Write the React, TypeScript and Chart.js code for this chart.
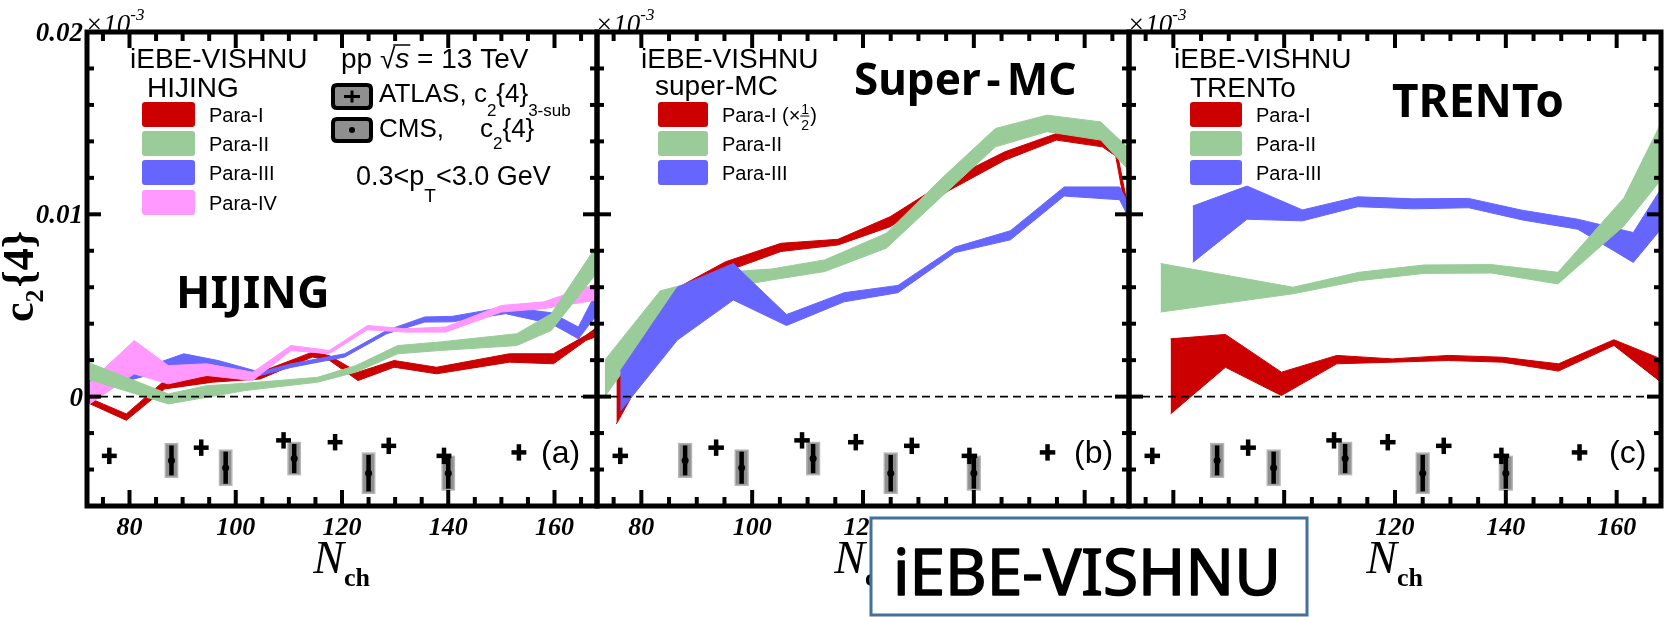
import React, { useEffect, useRef } from "react";
import { Chart, registerables } from "chart.js";

Chart.register(...registerables);

// ---------------- data ----------------
const xTickLabels = [80, 100, 120, 140, 160];
const yTickLabels = [0, 0.01, 0.02];
const yTickText = ["0", "0.01", "0.02"];

// (a) iEBE-VISHNU + HIJING
const hijingRedX = [72, 72.6, 79.4, 86.6, 95.6, 104.6, 114.4, 117.6, 123, 129.8, 137.8, 151.5, 159.8, 165.9, 168];
const hijingRedHi = [0.006, -0.0001, -0.00095, 0.00088, 0.00116, 0.00134, 0.00244, 0.00225, 0.00134, 0.00198, 0.00161, 0.00235, 0.00235, 0.00336, 0.0038];
const hijingRedLo = [-0.0003, -0.0004, -0.0013, 0.00042, 0.00079, 0.00097, 0.00217, 0.002, 0.00088, 0.00161, 0.00125, 0.00189, 0.0018, 0.00308, 0.0033];

const hijingGreenX = [72, 87.3, 94.5, 101.7, 115.4, 122.6, 130.5, 138.5, 152.9, 159.4, 168];
const hijingGreenHi = [0.0019, 0.00015, 0.0006, 0.00073, 0.00106, 0.0017, 0.0028, 0.003, 0.00345, 0.00455, 0.0083];
const hijingGreenLo = [0.00097, -0.0004, -0.00004, 0.00033, 0.00079, 0.00134, 0.00235, 0.00253, 0.0028, 0.00363, 0.0068];

const hijingBlueX = [72.5, 80, 90.2, 96.7, 104.6, 110.4, 120.5, 128.4, 135.6, 140.7, 150.8, 159.4, 164.5, 168];
const hijingBlueHi = [0.001, 0.0013, 0.00235, 0.00198, 0.00134, 0.0018, 0.00235, 0.00363, 0.00437, 0.0044, 0.00492, 0.0046, 0.00382, 0.0058];
const hijingBlueLo = [0.0002, 0.0009, 0.0017, 0.00161, 0.00116, 0.0016, 0.00217, 0.00345, 0.00409, 0.0041, 0.00455, 0.004, 0.00317, 0.0045];

const hijingPinkX = [72.5, 80.9, 87.3, 94.5, 103.2, 110.4, 117.6, 124.8, 132, 139.5, 150, 158, 168];
const hijingPinkHi = [0.0008, 0.00308, 0.0017, 0.0018, 0.00134, 0.0028, 0.00253, 0.0039, 0.00372, 0.00382, 0.005, 0.0052, 0.0062];
const hijingPinkLo = [-0.0004, 0.00125, 0.0007, 0.00116, 0.00088, 0.00253, 0.00235, 0.00367, 0.00354, 0.00354, 0.00464, 0.00483, 0.0053];

// (b) iEBE-VISHNU + super-MC
const superRedX = [75.5, 85.5, 95.2, 105.2, 115.5, 124.9, 135.5, 145.6, 154.9, 163.2, 165.6, 168];
const superRedHi = [0.001, 0.0058, 0.0074, 0.00841, 0.00863, 0.00987, 0.0119, 0.01343, 0.01443, 0.01429, 0.0138, 0.0101];
const superRedLo = [-0.0015, 0.004, 0.00686, 0.00796, 0.00832, 0.00932, 0.0113, 0.01297, 0.01407, 0.0137, 0.0132, 0.0092];

const superGreenX = [73.4, 83.4, 96.6, 103.5, 113.1, 124.2, 134.5, 143.9, 153.2, 162.9, 168];
const superGreenHi = [0.002, 0.0058, 0.00686, 0.007, 0.0075, 0.00896, 0.01206, 0.01471, 0.01544, 0.01507, 0.0136];
const superGreenLo = [0.0, 0.0042, 0.00604, 0.0064, 0.00686, 0.00814, 0.01106, 0.0137, 0.01453, 0.01407, 0.0124];

const superBlueX = [76.2, 86.5, 96.6, 106.2, 116.6, 126.3, 136.6, 146.6, 156.3, 166.3, 168];
const superBlueHi = [0.0014, 0.006, 0.0073, 0.0045, 0.0057, 0.0061, 0.0082, 0.0091, 0.0115, 0.0115, 0.0105];
const superBlueLo = [-0.0008, 0.0031, 0.0053, 0.0039, 0.0052, 0.0057, 0.0079, 0.0086, 0.011, 0.0108, 0.0098];

// (c) iEBE-VISHNU + TRENTo
const trentoRedX = [79.5, 89.4, 99.5, 109.5, 119.5, 129.7, 139.4, 149.5, 159.5, 168];
const trentoRedHi = [0.00317, 0.00341, 0.00134, 0.00226, 0.00207, 0.00226, 0.00216, 0.0018, 0.00312, 0.00207];
const trentoRedLo = [-0.00095, 0.00161, 0.00006, 0.0018, 0.00189, 0.00198, 0.00189, 0.0014, 0.00281, 0.00079];

const trentoGreenX = [77.7, 101.6, 113.5, 125.2, 137.4, 149.4, 161.3, 168];
const trentoGreenHi = [0.0073, 0.006, 0.00682, 0.00722, 0.00724, 0.00682, 0.0109, 0.015];
const trentoGreenLo = [0.00464, 0.00564, 0.00636, 0.00676, 0.00678, 0.00618, 0.00936, 0.0119];

const trentoBlueX = [83.5, 93.3, 103.3, 113.3, 123.3, 133.3, 143, 153, 163, 168];
const trentoBlueHi = [0.01045, 0.01155, 0.01024, 0.01096, 0.01085, 0.01087, 0.01022, 0.00973, 0.009, 0.0114];
const trentoBlueLo = [0.00736, 0.00973, 0.00964, 0.01042, 0.0103, 0.01036, 0.00969, 0.00918, 0.00736, 0.0092];

// measurements (same in all panels)
const atlasX = [76.2, 93.5, 109, 118.7, 128.8, 139.2, 153.3];
const atlasY = [-0.00325, -0.0028, -0.0024, -0.0025, -0.0027, -0.00325, -0.00306];
const atlasYErr = [0.00045, 0.00045, 0.00045, 0.00045, 0.00045, 0.00045, 0.00045];
const atlasXErr = [1.4, 1.4, 1.4, 1.4, 1.4, 1.4, 1.4];

const cmsX = [87.9, 98.1, 111, 125, 140];
const cmsY = [-0.0035, -0.0039, -0.0034, -0.0042, -0.0042];
const cmsStat = [0.00082, 0.00088, 0.0008, 0.001, 0.00085];
const cmsSys = [0.00092, 0.00096, 0.00088, 0.0011, 0.00092];

// ---------------- layout / style ----------------
const W = 1664;
const H = 617;
const FRAME_TOP = 32;
const FRAME_BOTTOM = 506;
const X_MIN = 72;
const X_MAX = 168;
const Y_MIN = -0.006;
const Y_MAX = 0.02;

const RED = "#cc0000";
const GREEN = "#99cc99";
const BLUE = "#6666ff";
const PINK = "#ff99ff";

const SANS = '"Liberation Sans", Arial, sans-serif';
const SERIF = '"Liberation Serif", "Times New Roman", serif';
const BIG = '"Noto Sans", sans-serif';

const CMS_HALF_W = 1.15;

function runs(ctx: any, x: number, y: number, list: any[]) {
  let cx = x;
  for (const r of list) {
    ctx.font = r.f;
    ctx.fillText(r.t, cx, y + (r.dy || 0));
    cx += ctx.measureText(r.t).width + (r.dx || 0);
  }
  return cx;
}

function txt(ctx: any, s: string, x: number, y: number, font: string, align = "left") {
  ctx.font = font;
  ctx.textAlign = align;
  ctx.fillText(s, x, y);
  ctx.textAlign = "left";
}

function roundRect(ctx: any, x: number, y: number, w: number, h: number, r: number) {
  ctx.beginPath();
  ctx.moveTo(x + r, y);
  ctx.lineTo(x + w - r, y);
  ctx.quadraticCurveTo(x + w, y, x + w, y + r);
  ctx.lineTo(x + w, y + h - r);
  ctx.quadraticCurveTo(x + w, y + h, x + w - r, y + h);
  ctx.lineTo(x + r, y + h);
  ctx.quadraticCurveTo(x, y + h, x, y + h - r);
  ctx.lineTo(x, y + r);
  ctx.quadraticCurveTo(x, y, x + r, y);
  ctx.closePath();
}

function line(ctx: any, x0: number, y0: number, x1: number, y1: number) {
  ctx.beginPath();
  ctx.moveTo(x0, y0);
  ctx.lineTo(x1, y1);
  ctx.stroke();
}

function drawMeasurements(c: any) {
  const { ctx, scales } = c;
  const xs = scales.x;
  const ys = scales.y;
  ctx.save();
  cmsX.forEach((v, i) => {
    const px = xs.getPixelForValue(v);
    const x0 = xs.getPixelForValue(v - CMS_HALF_W);
    const x1 = xs.getPixelForValue(v + CMS_HALF_W);
    const y0 = ys.getPixelForValue(cmsY[i] + cmsSys[i]);
    const y1 = ys.getPixelForValue(cmsY[i] - cmsSys[i]);
    ctx.fillStyle = "#8f8f8f";
    ctx.fillRect(x0, y0, x1 - x0, y1 - y0);
    ctx.strokeStyle = "#b5b5b5";
    ctx.lineWidth = 1.5;
    ctx.strokeRect(x0, y0, x1 - x0, y1 - y0);
    ctx.strokeStyle = "#000";
    ctx.lineWidth = 4.5;
    line(ctx, px, ys.getPixelForValue(cmsY[i] + cmsStat[i]), px, ys.getPixelForValue(cmsY[i] - cmsStat[i]));
    ctx.fillStyle = "#000";
    ctx.beginPath();
    ctx.arc(px, ys.getPixelForValue(cmsY[i]), 3.5, 0, Math.PI * 2);
    ctx.fill();
  });
  ctx.strokeStyle = "#000";
  ctx.lineWidth = 4.5;
  atlasX.forEach((v, i) => {
    const py = ys.getPixelForValue(atlasY[i]);
    line(ctx, xs.getPixelForValue(v - atlasXErr[i]), py, xs.getPixelForValue(v + atlasXErr[i]), py);
    const px = xs.getPixelForValue(v);
    line(ctx, px, ys.getPixelForValue(atlasY[i] + atlasYErr[i]), px, ys.getPixelForValue(atlasY[i] - atlasYErr[i]));
  });
  ctx.restore();
}

function drawFrame(c: any) {
  const { ctx, chartArea: a, scales } = c;
  const xs = scales.x;
  const ys = scales.y;
  ctx.save();
  ctx.strokeStyle = "#000";
  // zero line
  ctx.lineWidth = 1.6;
  ctx.setLineDash([8, 5]);
  const yz = ys.getPixelForValue(0);
  line(ctx, a.left, yz, a.right, yz);
  ctx.setLineDash([]);
  // x ticks
  ctx.lineWidth = 4;
  for (let v = 75; v < X_MAX; v += 5) {
    const px = xs.getPixelForValue(v);
    const len = v % 20 === 0 ? 16 : 9;
    line(ctx, px, a.bottom, px, a.bottom - len);
    line(ctx, px, a.top, px, a.top + len);
  }
  // y ticks
  for (let k = -2; k <= 9; k++) {
    const py = ys.getPixelForValue(k * 0.002);
    const len = k % 5 === 0 ? 14 : 7;
    line(ctx, a.left, py, a.left + len, py);
    line(ctx, a.right, py, a.right - len, py);
  }
  ctx.lineWidth = 5;
  ctx.strokeRect(a.left, a.top, a.right - a.left, a.bottom - a.top);
  ctx.restore();

  // x tick labels + title
  ctx.save();
  ctx.fillStyle = "#000";
  xTickLabels.forEach((v) => {
    txt(ctx, String(v), xs.getPixelForValue(v), 535, `italic bold 26px ${SERIF}`, "center");
  });
  const cx = (a.left + a.right) / 2;
  txt(ctx, "N", cx + 2, 573, `italic 46px ${SERIF}`, "right");
  txt(ctx, "ch", cx + 2, 586, `bold 26px ${SERIF}`, "left");
  // x10^-3
  runs(ctx, a.left - 2, 33, [
    { t: "×10", f: `italic 27px ${SERIF}` },
    { t: "-3", f: `italic 17px ${SERIF}`, dy: -13 },
  ]);
  ctx.restore();
}

function drawLegend(ctx: any, patchX: number, patchW: number, textX: number, items: any[]) {
  const rows = [114.5, 143.5, 172.5, 202.5];
  items.forEach((it, i) => {
    const cy = rows[i];
    ctx.fillStyle = it.color;
    roundRect(ctx, patchX, cy - 12.5, patchW, 25, 3);
    ctx.fill();
    ctx.fillStyle = "#000";
    if (it.frac) {
      const ex = runs(ctx, textX, cy + 7, [{ t: it.label, f: `20px ${SANS}` }]);
      ctx.font = `14px ${SANS}`;
      ctx.fillText("1", ex + 1, cy - 1);
      ctx.fillText("2", ex + 1, cy + 15);
      ctx.lineWidth = 1;
      ctx.strokeStyle = "#000";
      line(ctx, ex, cy + 1.5, ex + 9, cy + 1.5);
      runs(ctx, ex + 10, cy + 7, [{ t: ")", f: `20px ${SANS}` }]);
    } else {
      txt(ctx, it.label, textX, cy + 7, `20px ${SANS}`);
    }
  });
}

function boldText(ctx: any, s: string, x: number, y: number, font: string, stroke: number) {
  ctx.font = font;
  ctx.fillText(s, x, y);
  ctx.lineWidth = stroke;
  ctx.strokeStyle = ctx.fillStyle;
  ctx.lineJoin = "round";
  ctx.strokeText(s, x, y);
}

function decorateA(c: any) {
  const { ctx, scales } = c;
  const ys = scales.y;
  ctx.save();
  ctx.fillStyle = "#000";
  // y tick labels
  yTickLabels.forEach((v, i) => {
    ctx.textBaseline = "middle";
    txt(ctx, yTickText[i], 83, ys.getPixelForValue(v) + 2, `italic bold 27px ${SERIF}`, "right");
    ctx.textBaseline = "alphabetic";
  });
  // y title
  ctx.save();
  ctx.translate(33, 322);
  ctx.rotate(-Math.PI / 2);
  runs(ctx, 0, 0, [
    { t: "c", f: `bold 44px ${SERIF}` },
    { t: "2", f: `bold 26px ${SERIF}`, dy: 10, dx: 2 },
    { t: "{4}", f: `bold 44px ${SERIF}` },
  ]);
  ctx.restore();

  txt(ctx, "iEBE-VISHNU", 130, 68, `28px ${SANS}`);
  txt(ctx, "HIJING", 147, 97, `28px ${SANS}`);
  drawLegend(ctx, 142, 53, 209, [
    { label: "Para-I", color: RED },
    { label: "Para-II", color: GREEN },
    { label: "Para-III", color: BLUE },
    { label: "Para-IV", color: PINK },
  ]);

  // pp sqrt(s) = 13 TeV
  const e1 = runs(ctx, 341, 68, [{ t: "pp ", f: `28px ${SANS}` }, { t: "√", f: `28px ${SANS}` }]);
  const e2 = runs(ctx, e1, 68, [{ t: "s", f: `italic 28px ${SANS}` }]);
  ctx.lineWidth = 1.5;
  ctx.strokeStyle = "#000";
  line(ctx, e1 - 2, 45, e2 + 1, 45);
  runs(ctx, e2, 68, [{ t: " = 13 TeV", f: `28px ${SANS}` }]);

  // ATLAS / CMS legend icons
  [[83, 110, "cross"], [117, 143, "dot"]].forEach(([t, b, kind]: any) => {
    ctx.fillStyle = "#8f8f8f";
    ctx.strokeStyle = "#000";
    ctx.lineWidth = 4;
    roundRect(ctx, 333, t + 2, 38, b - t - 4, 4);
    ctx.fill();
    ctx.stroke();
    ctx.fillStyle = "#000";
    const cxm = 352;
    const cym = (t + b) / 2;
    if (kind === "cross") {
      ctx.lineWidth = 3;
      line(ctx, cxm - 8, cym, cxm + 8, cym);
      line(ctx, cxm, cym - 6, cxm, cym + 6);
    } else {
      ctx.beginPath();
      ctx.arc(cxm, cym, 3, 0, Math.PI * 2);
      ctx.fill();
    }
  });
  ctx.fillStyle = "#000";
  runs(ctx, 379, 102, [
    { t: "ATLAS, c", f: `26px ${SANS}` },
    { t: "2", f: `17px ${SANS}`, dy: 14 },
    { t: "{4}", f: `26px ${SANS}` },
    { t: "3-sub", f: `17px ${SANS}`, dy: 14 },
  ]);
  runs(ctx, 379, 137, [{ t: "CMS,", f: `26px ${SANS}` }]);
  runs(ctx, 480, 137, [
    { t: "c", f: `26px ${SANS}` },
    { t: "2", f: `17px ${SANS}`, dy: 12 },
    { t: "{4}", f: `26px ${SANS}` },
  ]);
  runs(ctx, 356, 185, [
    { t: "0.3<p", f: `27px ${SANS}` },
    { t: "T", f: `19px ${SANS}`, dy: 17 },
    { t: "<3.0 GeV", f: `27px ${SANS}` },
  ]);

  txt(ctx, "HIJING", 176, 308, `bold 45px ${BIG}`);
  txt(ctx, "(a)", 541, 463, `32px ${SANS}`);
  ctx.restore();
  drawFrame(c);
}

function decorateB(c: any) {
  const { ctx } = c;
  ctx.save();
  ctx.fillStyle = "#000";
  txt(ctx, "iEBE-VISHNU", 641, 68, `28px ${SANS}`);
  txt(ctx, "super-MC", 655, 95, `28px ${SANS}`);
  drawLegend(ctx, 658, 50, 722, [
    { label: "Para-I (×", color: RED, frac: true },
    { label: "Para-II", color: GREEN },
    { label: "Para-III", color: BLUE },
  ]);
  const ex = runs(ctx, 854, 95, [{ t: "Super", f: `bold 44px ${BIG}` }]);
  const ex2 = runs(ctx, ex + 6, 95, [{ t: "-", f: `bold 44px ${BIG}` }]);
  runs(ctx, ex2 + 6, 95, [{ t: "MC", f: `bold 44px ${BIG}` }]);
  txt(ctx, "(b)", 1074, 463, `32px ${SANS}`);
  ctx.restore();
  drawFrame(c);
}

function decorateC(c: any) {
  const { ctx } = c;
  ctx.save();
  ctx.fillStyle = "#000";
  txt(ctx, "iEBE-VISHNU", 1174, 68, `28px ${SANS}`);
  txt(ctx, "TRENTo", 1190, 97, `28px ${SANS}`);
  drawLegend(ctx, 1190, 52, 1256, [
    { label: "Para-I", color: RED },
    { label: "Para-II", color: GREEN },
    { label: "Para-III", color: BLUE },
  ]);
  txt(ctx, "TRENTo", 1392, 117, `bold 46px ${BIG}`);
  txt(ctx, "(c)", 1609, 463, `32px ${SANS}`);
  ctx.restore();
  drawFrame(c);
  // overlay box
  ctx.save();
  ctx.fillStyle = "#fff";
  ctx.fillRect(871, 518, 436, 97);
  ctx.strokeStyle = "#41719c";
  ctx.lineWidth = 3;
  ctx.strokeRect(871, 518, 436, 97);
  ctx.fillStyle = "#000";
  boldText(ctx, "iEBE-VISHNU", 893, 595, `64px ${BIG}`, 1.6);
  ctx.restore();
}

const PANELS = [
  {
    left: 87,
    right: 597,
    decorate: decorateA,
    bands: [
      { color: GREEN, x: hijingGreenX, hi: hijingGreenHi, lo: hijingGreenLo },
      { color: PINK, x: hijingPinkX, hi: hijingPinkHi, lo: hijingPinkLo },
      { color: BLUE, x: hijingBlueX, hi: hijingBlueHi, lo: hijingBlueLo },
      { color: RED, x: hijingRedX, hi: hijingRedHi, lo: hijingRedLo },
    ],
  },
  {
    left: 597,
    right: 1129,
    decorate: decorateB,
    bands: [
      { color: BLUE, x: superBlueX, hi: superBlueHi, lo: superBlueLo },
      { color: GREEN, x: superGreenX, hi: superGreenHi, lo: superGreenLo },
      { color: RED, x: superRedX, hi: superRedHi, lo: superRedLo },
    ],
  },
  {
    left: 1129,
    right: 1661,
    decorate: decorateC,
    bands: [
      { color: GREEN, x: trentoGreenX, hi: trentoGreenHi, lo: trentoGreenLo },
      { color: BLUE, x: trentoBlueX, hi: trentoBlueHi, lo: trentoBlueLo },
      { color: RED, x: trentoRedX, hi: trentoRedHi, lo: trentoRedLo },
    ],
  },
];

function bandDatasets(bands: any[]) {
  const ds: any[] = [];
  bands.forEach((b, k) => {
    ds.push({
      data: b.x.map((x: number, i: number) => ({ x, y: b.hi[i] })),
      borderColor: b.color,
      backgroundColor: b.color,
      borderWidth: 1,
      pointRadius: 0,
      fill: false,
      tension: 0,
      order: k,
    });
    ds.push({
      data: b.x.map((x: number, i: number) => ({ x, y: b.lo[i] })),
      borderColor: b.color,
      backgroundColor: b.color,
      borderWidth: 1,
      pointRadius: 0,
      fill: "-1",
      tension: 0,
      order: k,
    });
  });
  return ds;
}

function Panel({ cfg }: { cfg: any }) {
  const ref = useRef<HTMLCanvasElement | null>(null);
  useEffect(() => {
    const chart = new Chart(ref.current as HTMLCanvasElement, {
      type: "line",
      data: { datasets: bandDatasets(cfg.bands) },
      options: {
        responsive: false,
        animation: false,
        devicePixelRatio: 1,
        events: [],
        layout: {
          padding: { left: cfg.left, right: W - cfg.right, top: FRAME_TOP, bottom: H - FRAME_BOTTOM },
        },
        plugins: { legend: { display: false }, tooltip: { enabled: false } },
        scales: {
          x: { type: "linear", min: X_MIN, max: X_MAX, display: false },
          y: { type: "linear", min: Y_MIN, max: Y_MAX, display: false },
        },
      } as any,
      plugins: [
        {
          id: "decor",
          afterDatasetsDraw: (c: any) => drawMeasurements(c),
          afterDraw: (c: any) => cfg.decorate(c),
        },
      ],
    });
    return () => chart.destroy();
  }, [cfg]);
  return (
    <canvas
      ref={ref}
      width={W}
      height={H}
      style={{ position: "absolute", left: 0, top: 0, width: W, height: H }}
    />
  );
}

export default function App() {
  return (
    <div style={{ position: "fixed", left: 0, top: 0, width: W, height: H, background: "#fff" }}>
      {PANELS.map((p, i) => (
        <Panel key={i} cfg={p} />
      ))}
    </div>
  );
}
